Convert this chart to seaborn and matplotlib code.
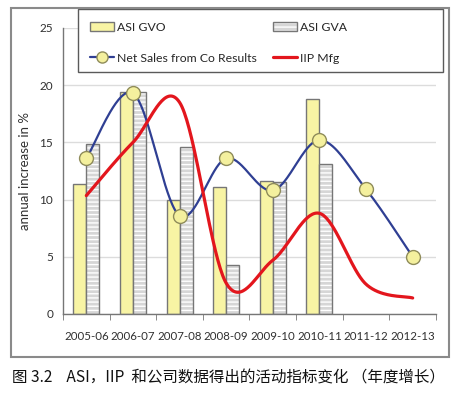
import numpy as np
import pandas as pd
import matplotlib
matplotlib.use("Agg")
import matplotlib.pyplot as plt
import seaborn as sns
from matplotlib.patches import Rectangle, Patch
from matplotlib.lines import Line2D

# --- data ---
years = ["2005-06", "2006-07", "2007-08", "2008-09", "2009-10", "2010-11", "2011-12", "2012-13"]
asi_gvo = [11.4, 19.4, 10.0, 11.1, 11.6, 18.8, np.nan, np.nan]
asi_gva = [14.9, 19.4, 14.6, 4.3, 11.5, 13.1, np.nan, np.nan]
net_sales = [13.6, 19.3, 8.6, 13.6, 10.8, 15.2, 10.9, 5.0]
iip_mfg = [10.35, 15.0, 18.5, 2.7, 4.7, 8.8, 2.6, 1.4]

caption = "图 3.2    ASI，IIP  和公司数据得出的活动指标变化 （年度增长）"

yellow = "#f8f4a4"
grey_fill = "#d6d6d6"
edge = "#767676"
blue = "#2f3f93"
red = "#e3161d"
marker_face = "#f4f09e"
marker_edge = "#8f8c5a"


def excel_smooth(y, steps=40):
    # bezier segments with catmull-rom style control points, like Excel's smoothed line
    y = np.asarray(y, float)
    x = np.arange(len(y), dtype=float)
    xs, ys = [], []
    n = len(y)
    for i in range(n - 1):
        i0, i3 = max(i - 1, 0), min(i + 2, n - 1)
        px = [x[i], x[i] + (x[i + 1] - x[i0]) / 6, x[i + 1] - (x[i3] - x[i]) / 6, x[i + 1]]
        py = [y[i], y[i] + (y[i + 1] - y[i0]) / 6, y[i + 1] - (y[i3] - y[i]) / 6, y[i + 1]]
        t = np.linspace(0, 1, steps)
        b = [(1 - t) ** 3, 3 * (1 - t) ** 2 * t, 3 * (1 - t) * t ** 2, t ** 3]
        xs.append(sum(bk * pk for bk, pk in zip(b, px)))
        ys.append(sum(bk * pk for bk, pk in zip(b, py)))
    return np.concatenate(xs), np.concatenate(ys)


sns.set_style("white")
plt.rcParams["font.family"] = ["Lato", "DejaVu Sans"]
plt.rcParams["hatch.linewidth"] = 1.0

bars = pd.DataFrame({
    "year": years * 2,
    "series": ["ASI GVO"] * len(years) + ["ASI GVA"] * len(years),
    "value": asi_gvo + asi_gva,
})

fig, ax = plt.subplots(figsize=(4.6, 3.96), dpi=100)
fig.subplots_adjust(left=63 / 460, right=436 / 460, bottom=1 - 314 / 396, top=1 - 28 / 396)

sns.barplot(data=bars, x="year", y="value", hue="series", order=years,
            hue_order=["ASI GVO", "ASI GVA"], palette=[yellow, grey_fill],
            saturation=1, width=0.56, edgecolor=edge, linewidth=1,
            legend=False, ax=ax, zorder=2)

# hatched grey bars: white stripes, then grey outline on top
for p in ax.containers[1]:
    p.set_hatch("----")
    p.set_edgecolor("white")
    p.set_linewidth(0)
    ax.add_patch(Rectangle(p.get_xy(), p.get_width(), p.get_height(),
                           fill=False, edgecolor=edge, linewidth=1, zorder=2.5))

bx, by = excel_smooth(net_sales)
ax.plot(bx, by, color=blue, lw=1.6, zorder=3, solid_capstyle="round")
rx, ry = excel_smooth(iip_mfg)
ax.plot(rx, ry, color=red, lw=2.3, zorder=4, solid_capstyle="round")
ax.plot(np.arange(len(years)), net_sales, ls="none", marker="o", ms=10,
        mfc=marker_face, mec=marker_edge, mew=1, zorder=5)

ax.set_ylim(0, 25)
ax.set_xlim(-0.5, len(years) - 0.5)
ax.set_yticks([0, 5, 10, 15, 20, 25])
ax.yaxis.grid(True, color="#dcdcdc", lw=1)
ax.set_axisbelow(True)
ax.set_xlabel("")
ax.set_ylabel("annual increase in %", fontsize=9.5, color="#303030", labelpad=6)

ax.set_xticks(np.arange(-0.5, len(years)), minor=True)
ax.tick_params(axis="x", which="major", length=0, pad=12.5, labelsize=8.3, labelcolor="#303030")
ax.tick_params(axis="x", which="minor", length=4, color=edge, direction="out")
ax.tick_params(axis="y", length=4, color=edge, direction="out", pad=3, labelsize=8.5, labelcolor="#303030")
ax.tick_params(axis="x", which="both", bottom=True)
for s in ["top", "right"]:
    ax.spines[s].set_visible(False)
for s in ["left", "bottom"]:
    ax.spines[s].set_color(edge)
    ax.spines[s].set_linewidth(1)

# legend box (drawn as a figure patch so it can be wider than its entries)
fig.add_artist(Rectangle((78 / 460, 1 - 72 / 396), 365 / 460, 63 / 396,
                         transform=fig.transFigure, facecolor="white",
                         edgecolor="#5a5a5a", lw=1, zorder=1))
h_gvo = Patch(facecolor=yellow, edgecolor=edge, lw=1)
h_gva = (Patch(facecolor=grey_fill, edgecolor="white", lw=0, hatch="----"),
         Patch(fill=False, edgecolor=edge, lw=1))
h_net = Line2D([], [], color=blue, lw=1.6, marker="o", ms=8, mfc=marker_face, mec=marker_edge)
h_iip = Line2D([], [], color=red, lw=2.3)
leg_kw = dict(loc="upper left", bbox_transform=fig.transFigure, frameon=False,
              borderpad=0, borderaxespad=0, labelspacing=1.6, handlelength=1.95,
              handletextpad=0.3, fontsize=8.8)
fig.legend([h_gvo, h_net], ["ASI GVO", "Net Sales from Co Results"],
           bbox_to_anchor=(90 / 460, 1 - 22 / 396), **leg_kw)
fig.legend([h_gva, h_iip], ["ASI GVA", "IIP Mfg"],
           bbox_to_anchor=(273 / 460, 1 - 22 / 396), **leg_kw)

# outer frame and caption
fig.add_artist(Rectangle((11 / 460, 1 - 357 / 396), 438 / 460, 349 / 396,
                         transform=fig.transFigure, fill=False,
                         edgecolor="#8a8a8a", lw=1.5))
fig.text(12 / 460, 1 - 378 / 396, caption, ha="left", va="center",
         fontsize=11.2, color="#111111", family=["Noto Sans CJK SC", "DejaVu Sans"])

fig.savefig("out.png", dpi=100)
